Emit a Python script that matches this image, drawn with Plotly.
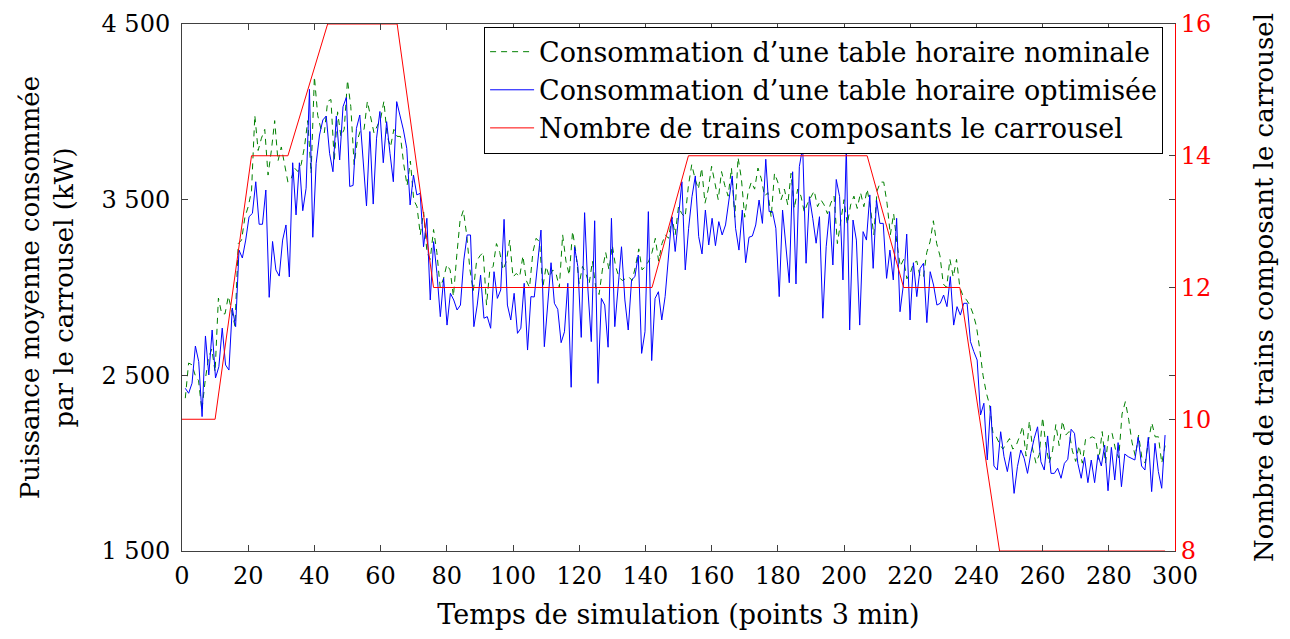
import numpy as np
import plotly.graph_objects as go

# Consommation d'une table horaire optimisée (kW)
optimisee = [
    2426, 2398, 2455, 2667, 2578, 2265, 2724, 2502, 2758, 2485,
    2549, 2769, 2559, 2530, 2883, 2777, 3213, 3168, 3270, 3403,
    3422, 3602, 3360, 3360, 3555, 2944, 3262, 3100, 3065, 3270,
    3356, 3060, 3710, 3413, 3710, 3437, 3565, 4128, 3286, 3707,
    3868, 3954, 3976, 3764, 3659, 3976, 3726, 4029, 4082, 3575,
    3581, 3906, 3982, 3745, 3464, 3888, 3475, 3850, 4002,
    3710, 3944, 3764, 3602, 4058, 3982, 3897, 3792, 3470, 3640,
    3527, 3536, 3232, 3394, 2929, 3261, 3081, 2834, 3052, 2786,
    2967, 2929, 2872, 2900, 3156, 3299, 3299, 2777, 2900, 3071,
    2825, 2834, 2768, 3090, 2938, 2986, 3388, 2900, 2815, 2967,
    2739, 2768, 3024, 2644, 2948, 2946, 3156, 3327, 2663, 2918,
    3141, 2910, 2876, 2686, 2748, 3024, 2432, 3232, 3118, 2716, 3426,
    2986, 2692, 3380, 2454, 2938, 2900, 2660, 3394, 2777, 2986,
    3232, 2929, 2758, 3043, 3062, 3185, 2625, 2748, 3432, 2584,
    2938, 2976, 2815, 2948, 3175, 3403, 3205, 3403, 3602, 3100,
    3337, 3517, 3635, 3290, 3191, 3441, 3242, 3394, 3238, 3375,
    3299, 3356, 3498, 3635, 3337, 3213, 3441, 3141, 3286, 3293,
    3356, 3498, 3365, 3730, 3432, 3432, 3337, 2948, 3441,
    3232, 3027, 3659, 3020, 3688, 3800, 3138, 3517, 3394, 3252,
    3403, 2825, 3232, 3432, 3128, 3615, 3517, 3043, 3800, 2758,
    3384, 3270, 2786, 3318, 3270, 3527, 3109, 3498, 3365, 3365,
    3052, 3213, 3043, 3394, 2862, 3014, 3304, 2815, 3141, 2948,
    3109, 3138, 2800, 3090, 3014, 2900, 2910, 2957, 2891, 3062,
    2786, 2891, 2843, 2910, 2910, 2692, 2635, 2587, 2274, 2341,
    2018, 2325, 1984, 1961, 2179, 2037, 1952, 2065, 1828, 1980,
    2075, 2028, 1942, 2056, 2141, 2207, 2008, 1961, 2155, 1942,
    1942, 1971, 1914, 1999,
    2022, 2193, 2170, 1999, 1914, 2033, 1889, 2018, 1889, 2046,
    1984, 2103, 1843, 2090, 1904, 2117, 1866, 2052, 2037, 2028,
    2018, 2147, 1984, 1961, 2147, 1838, 2113, 1952, 1857, 2160,
]

# Consommation d'une table horaire nominale (kW)
nominale = [
    2370, 2570, 2560, 2500, 2470, 2300, 2470, 2600, 2650, 2520,
    2940, 2850, 2850, 2950, 2870, 2780,
    3250, 3270, 3400, 3460, 3550, 3980, 3780, 3850, 3900, 3640,
    3780, 3950, 3720, 3800,
    3700, 3600, 3620, 3680, 3660, 3700, 3800, 3950, 3650, 4200,
    3980, 3900, 3880, 4060, 4070, 3720, 4000, 3860, 3900, 4180,
    4030, 3700, 3840, 3900, 3900, 4060, 3970, 3880, 3920,
    3960, 4060, 3860, 3800, 3900, 3860, 3860, 3700, 3580, 3720,
    3500, 3460, 3300, 3430, 3200, 3160, 3330, 3200, 3000, 3050,
    3130, 3100, 2950, 3180, 3380, 3440, 3300, 3100, 2980, 3150, 3180,
    3200, 2900, 3100, 3120, 3250, 3200, 3100, 3150, 3270, 3060,
    3080, 3060, 3180, 3040, 3000, 3200, 3280, 3260, 3000, 3120,
    3060, 3100, 3080, 3000, 3300, 3150, 3070, 3320, 3200, 3020, 3120,
    3080, 3020, 3150, 3000, 2960, 3100, 3200, 3100, 3240, 3120,
    3060, 3040, 3050, 3060, 3040, 3120, 3220, 3100, 3120, 3150,
    3200, 3280, 3150, 3250, 3300, 3280, 3400, 3300, 3460, 3420,
    3400, 3580, 3700, 3620, 3560, 3680, 3480, 3560, 3690, 3600,
    3500, 3660, 3580, 3520, 3680, 3400, 3740, 3620, 3400, 3540,
    3600, 3560, 3680, 3620, 3520, 3540, 3400, 3650, 3600, 3500,
    3560, 3470, 3650, 3450, 3560, 3520, 3430, 3480, 3520, 3550,
    3460, 3500, 3470, 3420, 3480, 3520, 3250, 3380, 3500, 3360,
    3470, 3520, 3450, 3540, 3460, 3560, 3450, 3300, 3550, 3600,
    3600, 3480, 3300, 3420, 3250, 3120, 3160, 3050, 3080, 3140,
    3150, 3060, 3060, 3200, 3260, 3380, 3250, 3180, 3020, 3000,
    3160, 3060, 3160, 3000, 2950, 2930, 2900,
    2850, 2780, 2650, 2500, 2400, 2330, 2170, 2150, 2110, 2080,
    2110, 2140, 2080, 2100, 2150, 2210, 2040, 2240, 2080, 2000,
    2050, 2260, 2100, 2000, 2070, 2220,
    2100, 2240, 2160, 2180, 2070, 2010, 2100, 2000, 2140, 2140,
    2150, 2140, 2020, 2180, 2000, 2170, 2170, 2080, 2030, 2280,
    2350, 2250, 2120, 2040, 2160, 2030, 2000, 2130, 2230, 2150,
    2150, 2000, 2100,
]

# Nombre de trains composant le carrousel
temps_trains = [0, 10, 21, 32, 44, 65, 76, 142, 153, 207, 218, 235, 247, 297]
nb_trains = [10, 10, 14, 14, 16, 16, 12, 12, 14, 14, 12, 12, 8, 8]

t_nom = np.arange(1, len(nominale) + 1)
t_opt = np.linspace(1, 297, len(optimisee))

police = "DejaVu Serif"
gris = "#404040"

fig = go.Figure()
fig.add_trace(go.Scatter(x=t_nom, y=nominale, mode="lines",
                         line=dict(color="#008000", width=1, dash="6px,5px"),
                         name="Consommation d’une table horaire nominale"))
fig.add_trace(go.Scatter(x=t_opt, y=optimisee, mode="lines",
                         line=dict(color="#0000ff", width=1),
                         name="Consommation d’une table horaire optimisée"))
fig.add_trace(go.Scatter(x=temps_trains, y=nb_trains, mode="lines", yaxis="y2",
                         line=dict(color="#ff0000", width=1),
                         name="Nombre de trains composants le carrousel"))

# la page ajoute une marge de 8 px autour de la figure
fig.update_layout(
    width=1290, height=639,
    margin=dict(l=174, r=123, t=16, b=96),
    plot_bgcolor="white", paper_bgcolor="white",
    font=dict(family=police, size=24, color="black"),
    showlegend=True,
    legend=dict(x=0.988, y=0.995, xanchor="right", yanchor="top",
                bgcolor="white", bordercolor="black", borderwidth=1,
                font=dict(size=27), itemwidth=44, tracegroupgap=0),
    xaxis=dict(range=[0, 300], tickvals=list(range(0, 301, 20)),
               ticks="inside", ticklen=6, tickcolor=gris, mirror="ticks",
               ticklabelstandoff=3,
               showline=True, linecolor=gris, showgrid=False, zeroline=False,
               automargin=False,
               title=dict(text="Temps de simulation (points 3 min)",
                          font=dict(size=27), standoff=16)),
    yaxis=dict(range=[1500, 4500], tickvals=[1500, 2500, 3500, 4500],
               ticktext=["1 500", "2 500", "3 500", "4 500"],
               ticks="inside", ticklen=6, tickcolor=gris, mirror="ticks",
               ticklabelstandoff=6,
               showline=True, linecolor=gris, showgrid=False, zeroline=False,
               automargin=False,
               title=dict(text="Puissance moyenne consommée<br>par le carrousel (kW)",
                          font=dict(size=26), standoff=20)),
    yaxis2=dict(range=[8, 16], tickvals=[8, 10, 12, 14, 16], overlaying="y",
                side="right", ticks="inside", ticklen=6, tickcolor=gris,
                tickfont=dict(color="red"), showline=True, linecolor="red",
                showgrid=False, zeroline=False, automargin=False,
                title=dict(text="Nombre de trains composant le carrousel",
                           font=dict(color="black", size=26), standoff=44)),
)

fig.write_html("out.html")
